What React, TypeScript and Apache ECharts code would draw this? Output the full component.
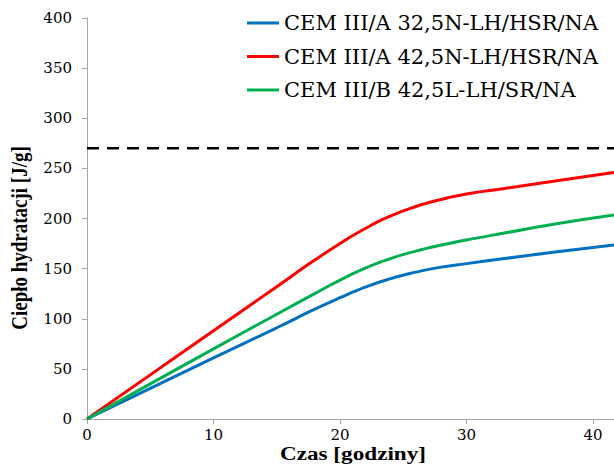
import React, { useEffect, useRef } from "react";
import * as echarts from "echarts";

const hours = [0, 5, 10, 15, 18, 20, 22, 24, 26, 28, 30, 33, 37, 41.66];
const cem32 = [0, 30.5, 61, 91, 109.5, 121, 131.5, 140, 146.5, 151.5, 155, 160, 166.5, 173.5];
const cem42A = [0, 44, 88, 132, 158.5, 175, 190, 202.5, 212, 219, 224.5, 230, 237.5, 246];
const cem42B = [0, 35, 70, 104.5, 125, 138.5, 150.5, 160, 167.5, 173.5, 178.6, 185.5, 194.5, 203.5];
const seriesNames = [
  "CEM III/A 32,5N-LH/HSR/NA",
  "CEM III/A 42,5N-LH/HSR/NA",
  "CEM III/B 42,5L-LH/SR/NA",
];
const limitValue = 270;
const xMax = 41.66;

export default function App() {
  const ref = useRef<HTMLDivElement>(null);
  useEffect(() => {
    if (!ref.current) return;
    const chart = echarts.init(ref.current, undefined, { renderer: "svg" });
    const pair = (vals: number[]) => hours.map((h, i) => [h, vals[i]]);
    const colors = ["#0070C0", "#FF0000", "#00B050"];
    const valuesList = [cem32, cem42A, cem42B];
    chart.setOption({
      animation: false,
      backgroundColor: "#fff",
      grid: { left: 87, top: 18, right: 0, bottom: 45, containLabel: false },
      legend: {
        orient: "vertical",
        left: 242,
        top: 6,
        itemWidth: 32,
        itemHeight: 3,
        itemGap: 9.5,
        icon: "rect",
        data: seriesNames,
        textStyle: { fontFamily: "DejaVu Serif", fontSize: 21, color: "#000", lineHeight: 24 },
      },
      xAxis: {
        type: "value",
        min: 0,
        max: xMax,
        interval: 10,
        axisLine: { show: true, lineStyle: { color: "#A6A6A6", width: 1 } },
        axisTick: { show: true, length: 5, lineStyle: { color: "#A6A6A6" } },
        splitLine: { show: false },
        axisLabel: {
          showMaxLabel: false,
          fontFamily: "DejaVu Serif",
          fontSize: 15,
          color: "#000",
          margin: 8,
        },
      },
      yAxis: {
        type: "value",
        min: 0,
        max: 400,
        interval: 50,
        axisLine: { show: true, lineStyle: { color: "#A6A6A6", width: 1 } },
        axisTick: { show: true, length: 5, lineStyle: { color: "#A6A6A6" } },
        splitLine: { show: false },
        axisLabel: {
          fontFamily: "DejaVu Serif",
          fontSize: 15,
          color: "#000",
          margin: 15,
        },
      },
      graphic: [
        {
          type: "text",
          x: 19,
          y: 238,
          rotation: Math.PI / 2,
          scaleY: 1.2,
          style: {
            text: "Ciepło hydratacji [J/g]",
            fontFamily: "Liberation Serif",
            fontWeight: "bold",
            fontSize: 19,
            fill: "#000",
            align: "center",
            verticalAlign: "middle",
          },
        },
        {
          type: "text",
          x: 353,
          y: 454,
          scaleX: 1.22,
          style: {
            text: "Czas [godziny]",
            fontFamily: "Liberation Serif",
            fontWeight: "bold",
            fontSize: 19,
            fill: "#000",
            align: "center",
            verticalAlign: "middle",
          },
        },
      ],
      series: [
        ...valuesList.map((vals, i) => ({
          name: seriesNames[i],
          type: "line",
          data: pair(vals),
          smooth: 0.55,
          showSymbol: false,
          symbol: "none",
          lineStyle: { color: colors[i], width: 3 },
          itemStyle: { color: colors[i] },
          z: 3,
        })),
        {
          name: "limit",
          type: "line",
          data: [
            [0, limitValue],
            [xMax, limitValue],
          ],
          showSymbol: false,
          symbol: "none",
          lineStyle: { color: "#000", width: 2.5, type: [12, 8] },
          z: 2,
        },
      ],
    });
    return () => chart.dispose();
  }, []);
  return <div ref={ref} style={{ width: 614, height: 464, position: "absolute", left: 0, top: 0 }} />;
}
